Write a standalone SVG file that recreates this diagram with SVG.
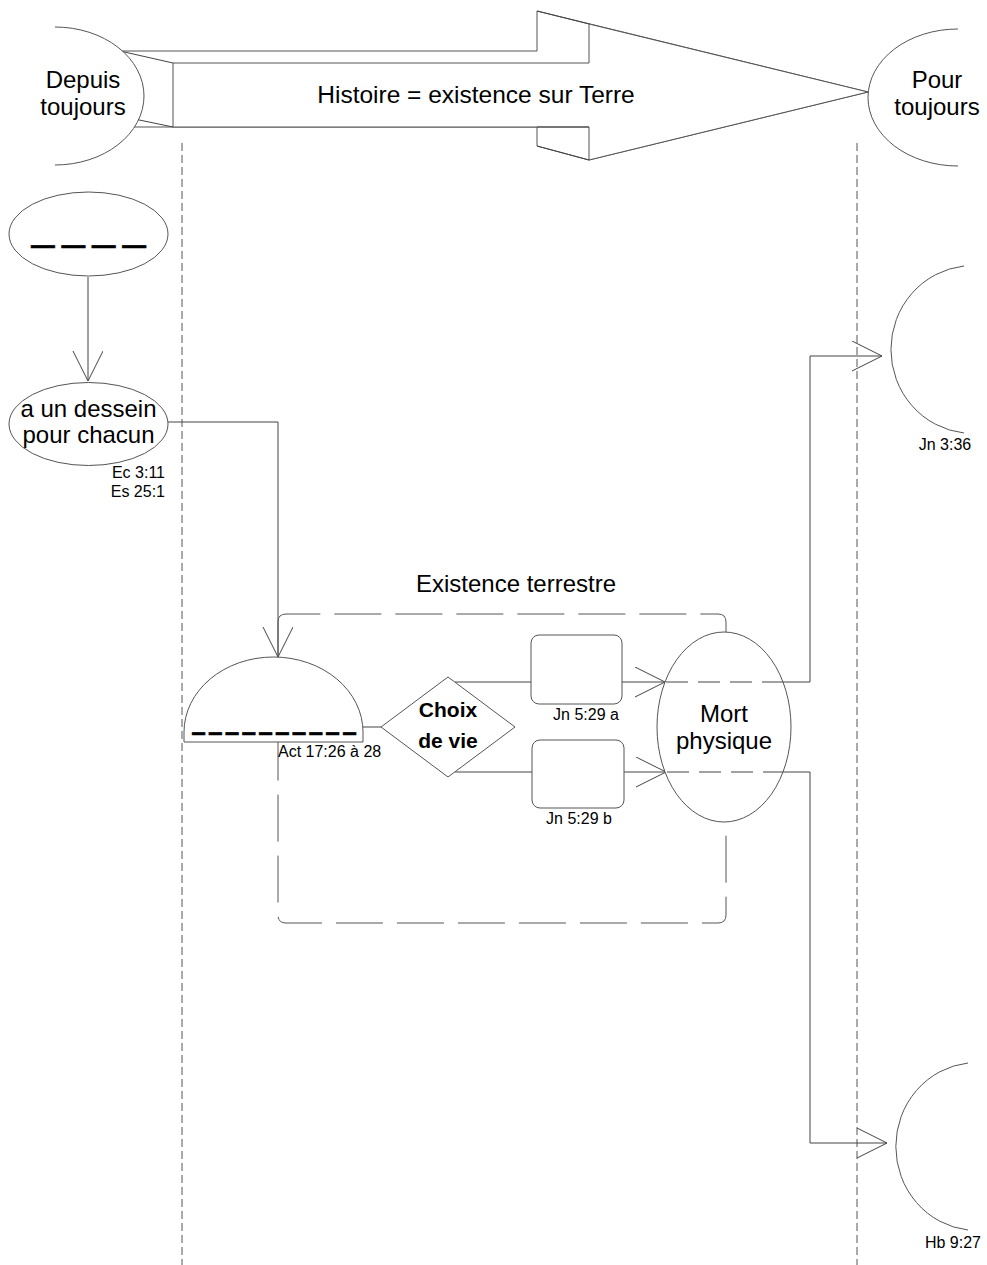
<svg xmlns="http://www.w3.org/2000/svg" width="987" height="1265" viewBox="0 0 987 1265">
<style>
.s{fill:#fff;stroke:#555;stroke-width:1}
.l{fill:none;stroke:#444;stroke-width:1}
.g{fill:none;stroke:#555;stroke-width:1;stroke-dasharray:8 4}
.big{font-family:"Liberation Sans",Arial,sans-serif;font-size:24px;fill:#000;text-anchor:middle}
.ref{font-family:"Liberation Sans",Arial,sans-serif;font-size:16px;fill:#000}
.bold{font-family:"Liberation Sans",Arial,sans-serif;font-size:21px;font-weight:bold;fill:#000;text-anchor:middle}
.blank{font-family:"Liberation Sans",Arial,sans-serif;font-size:24px;font-weight:bold;fill:#000;stroke:#000;stroke-width:0.6}
</style>
<defs>
<marker id="v" markerWidth="32" markerHeight="32" refX="30" refY="15" orient="auto" markerUnits="userSpaceOnUse">
<path d="M0,0 L30,15 L0,30" fill="none" stroke="#444" stroke-width="1"/>
</marker>
</defs>
<rect width="987" height="1265" fill="#fff"/>

<!-- swimlane guides -->
<g id="guides">
<line class="g" x1="182" y1="143" x2="182" y2="1265"/>
<line class="g" x1="857" y1="143" x2="857" y2="1265"/>
</g>

<!-- big 3D arrow -->
<g id="history-arrow">
<path class="s" d="M120,51 L537,51 L537,11 L868,92 L589,160 L537,146 L537,127 L120,127 Z"/>
<path class="s" d="M173,63 L589,63 L589,24 L868,92 L589,160 L589,127 L173,127 Z"/>
<line class="l" x1="537" y1="11" x2="589" y2="24"/>
<line class="l" x1="537" y1="146" x2="589" y2="160"/>
<line class="l" x1="537" y1="127" x2="589" y2="127"/>
<line class="l" x1="120" y1="51" x2="173" y2="63"/>
<line class="l" x1="120" y1="116" x2="173" y2="127"/>
<text class="big" x="476" y="103" style="font-size:24.5px">Histoire = existence sur Terre</text>
</g>

<g id="depuis">
<path d="M55,27 A89,69 0 0 1 55,165 L0,165 L0,27 Z" style="fill:#fff;stroke:none"/>
<path class="l" d="M55,27 A89,69 0 0 1 55,165" style="stroke:#555"/>
<text class="big" x="83" y="88">Depuis</text>
<text class="big" x="83" y="115">toujours</text>
</g>

<g id="pour">
<path class="l" d="M958,29 A90,68.5 0 0 0 958,166" style="stroke:#555"/>
<text class="big" x="937" y="88">Pour</text>
<text class="big" x="937" y="115">toujours</text>
</g>

<!-- connectors -->
<g id="connectors">
<line class="l" x1="88" y1="277" x2="88" y2="381" marker-end="url(#v)"/>
<path class="l" d="M168,422 L278,422 L278,657" marker-end="url(#v)"/>
<line class="l" x1="363" y1="727" x2="381" y2="727"/>
<line class="l" x1="455" y1="682" x2="531" y2="682"/>
<line class="l" x1="455" y1="772" x2="532" y2="772"/>
<line class="l" x1="622" y1="682" x2="665" y2="682" marker-end="url(#v)"/>
<line class="l" x1="624" y1="772" x2="666" y2="772" marker-end="url(#v)"/>
<path class="l" d="M783,682 L810,682 L810,356 L882,356" marker-end="url(#v)"/>
<path class="l" d="M783,772 L810,772 L810,1143 L887,1143" marker-end="url(#v)"/>
</g>

<!-- Existence terrestre container -->
<g id="existence-terrestre">
<path d="M278,622 Q278,614 286,614 L718,614 Q726,614 726,622 L726,915 Q726,923 718,923 L286,923 Q278,923 278,915 Z" fill="none" stroke="#555" stroke-width="1" stroke-dasharray="47 14"/>
<text class="big" x="516" y="592">Existence terrestre</text>
</g>

<g id="blank-top">
<ellipse class="s" cx="88.5" cy="234" rx="79.5" ry="42"/>
<text class="blank" x="31" y="253" textLength="115" lengthAdjust="spacingAndGlyphs">— — — —</text>
</g>

<g id="dessein">
<ellipse class="s" cx="88.5" cy="424" rx="79.5" ry="41.5"/>
<text class="big" x="88.5" y="417">a un dessein</text>
<text class="big" x="88.5" y="443">pour chacun</text>
<text class="ref" x="165" y="478" text-anchor="end">Ec 3:11</text>
<text class="ref" x="165" y="497" text-anchor="end">Es 25:1</text>
</g>

<g id="half-disc">
<path class="s" d="M184,742 L184,732 A89.5,75 0 0 1 363,732 L363,742 Z"/>
<text class="blank" x="192" y="740" textLength="164" lengthAdjust="spacingAndGlyphs">— — — — — — — — — —</text>
<text class="ref" x="278" y="757">Act 17:26 à 28</text>
</g>

<g id="choix">
<path class="s" d="M381,727 L448,677 L515,727 L448,777 Z"/>
<text class="bold" x="448" y="717">Choix</text>
<text class="bold" x="448" y="748">de vie</text>
</g>

<g id="box-a">
<rect class="s" x="531" y="635" width="91" height="69" rx="8"/>
<text class="ref" x="586" y="720" text-anchor="middle">Jn 5:29 a</text>
</g>

<g id="box-b">
<rect class="s" x="532" y="740" width="92" height="68" rx="8"/>
<text class="ref" x="579" y="824" text-anchor="middle">Jn 5:29 b</text>
</g>

<g id="mort">
<ellipse class="s" cx="724" cy="727" rx="67" ry="95"/>
<line x1="666" y1="682" x2="783" y2="682" stroke="#444" stroke-width="1" stroke-dasharray="22 10"/>
<line x1="667" y1="772" x2="783" y2="772" stroke="#444" stroke-width="1" stroke-dasharray="22 10"/>
<text class="big" x="724" y="722">Mort</text>
<text class="big" x="724" y="749">physique</text>
</g>

<g id="end-a">
<path class="l" d="M964,266 A82,84 0 0 0 964,433" style="stroke:#555"/>
<text class="ref" x="945" y="450" text-anchor="middle">Jn 3:36</text>
</g>

<g id="end-b">
<path class="l" d="M968,1063 A81,84 0 0 0 968,1230" style="stroke:#555"/>
<text class="ref" x="953" y="1248" text-anchor="middle">Hb 9:27</text>
</g>
</svg>
